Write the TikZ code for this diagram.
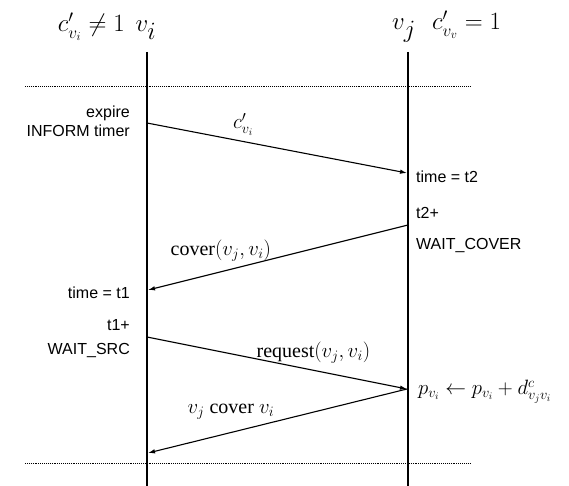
\documentclass[tikz,border=0pt]{standalone}
\usepackage{amsmath}
\usepackage{fontspec}
\setmainfont{Liberation Serif}
\setsansfont{Liberation Sans}
\usetikzlibrary{arrows.meta, positioning, calc}

\begin{document}
\begin{tikzpicture}[
	x=1pt, y=-1pt,
	lifeline/.style={line width=2pt},
	msg/.style={-{Latex[length=7pt,width=4.5pt]}, line width=1.1pt},
	note/.style={font=\sffamily\fontsize{16}{19}\selectfont, inner sep=1pt},
	lbl/.style={font=\fontsize{20}{23}\selectfont, inner sep=1pt},
	head/.style={font=\fontsize{34}{38}\selectfont, inner sep=0pt},
	headlbl/.style={font=\fontsize{23}{26}\selectfont, inner sep=0pt},
	sep/.style={densely dotted, line width=0.9pt},
	>=latex
	]
	\useasboundingbox (0,0) rectangle (569,486);

	% nodes on top
	\node[head, anchor=base] (vi) at (146,32) {$v_i$};
	\node[headlbl, anchor=base east] (ci) at (125,32) {$c'_{v_i}\neq 1$};
	\node[head, anchor=base] (vj) at (404,30) {$v_j$};
	\node[headlbl, anchor=base west] (cj) at (432,30) {$c'_{v_v}=1$};

	% lifelines
	\coordinate (vitop) at (147,52);
	\coordinate (vibot) at (147,486);
	\coordinate (vjtop) at (408,52);
	\coordinate (vjbot) at (408,486);
	\draw[lifeline] (vitop) -- (vibot);
	\draw[lifeline] (vjtop) -- (vjbot);

	% dotted borders
	\coordinate (upL) at (25,86);
	\coordinate (upR) at (470,86);
	\coordinate (loL) at (25,463);
	\coordinate (loR) at (470,463);
	\draw[sep] (upL) -- (upR);
	\draw[sep] (loL) -- (loR);

	% messages
	\coordinate (inform) at (147,123);
	\coordinate (t2) at (407,173);
	\coordinate (waitcov) at (408,225);
	\coordinate (t1) at (148,290);
	\coordinate (waitsrc) at (147,337);
	\coordinate (upd) at (407,389);
	\coordinate (done) at (148,453);
	\draw[msg] (inform) -- node[lbl, pos=0.37, above=4pt] {$c'_{v_i}$} (t2);
	\draw[msg] (waitcov) -- node[lbl, pos=0.72, above=9pt] {cover$(v_j, v_i)$} (t1);
	\draw[msg] (waitsrc) -- node[lbl, pos=0.64, above=5pt] {request$(v_j, v_i)$} (upd);
	\draw[msg] (upd) -- node[lbl, pos=0.68, above=12pt] {$v_j$ cover $v_i$} (done);

	% notes on the left
	\node[note, anchor=east, align=right] (expire) at (131,121) {expire\\INFORM timer};
	\node[note, anchor=east] (time1) at (131,293) {time = t1};
	\node[note, anchor=east] (t1plus) at (131,325) {t1+};
	\node[note, anchor=east] (wsrc) at (131,351) {WAIT\_SRC};

	% notes on the right
	\node[note, anchor=west] (time2) at (415,177) {time = t2};
	\node[note, anchor=west] (t2plus) at (415,213) {t2+};
	\node[note, anchor=west] (wcov) at (415,246) {WAIT\_COVER};
	\node[lbl, anchor=west] (pupd) at (417,392) {$p_{v_i} \leftarrow p_{v_i} + d^{c}_{v_j v_i}$};
\end{tikzpicture}
\end{document}
